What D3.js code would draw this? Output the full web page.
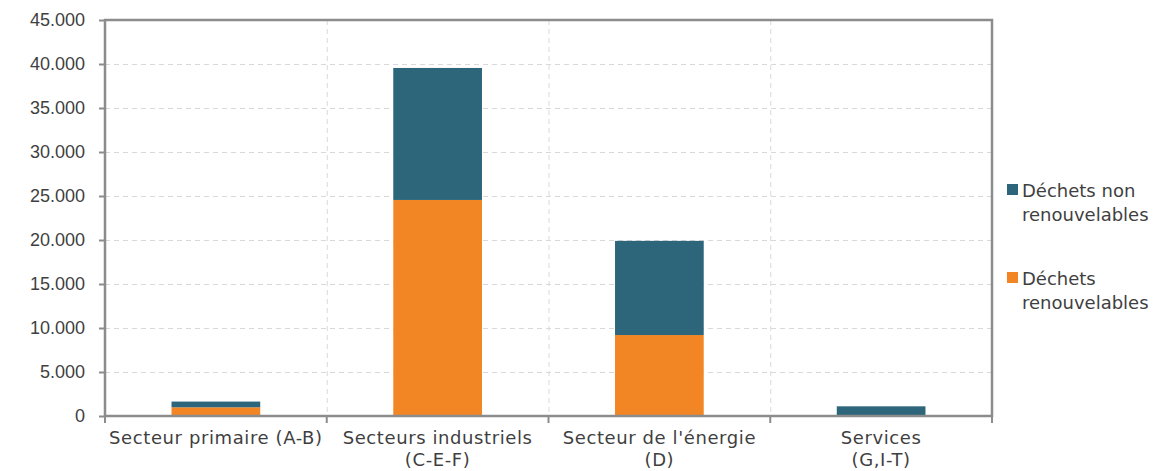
<!DOCTYPE html>
<html>
<head>
<meta charset="utf-8">
<script src="https://cdn.jsdelivr.net/npm/d3@7"></script>
<style>
  body { margin: 0; background: #fff; }
  svg { font-family: "DejaVu Sans", sans-serif; }
</style>
</head>
<body>
<svg id="svg1" width="1162" height="471"></svg>
<script>
var categories = [["Secteur primaire (A-B)"], ["Secteurs industriels", "(C-E-F)"], ["Secteur de l'énergie", "(D)"], ["Services", "(G,I-T)"]];
var renouvelables = [990, 24550, 9200, 30];
var nonRenouvelables = [650, 15000, 10700, 1070];
var seriesNames = ["Déchets renouvelables", "Déchets non renouvelables"];
var yTicks = [0, 5000, 10000, 15000, 20000, 25000, 30000, 35000, 40000, 45000];

var colors = ["#f28524", "#2d667b"];
var axisColor = "#8c8c8c";
var textColor = "#3f3f3f";
var fontSize = "18px";

var marginLeft = 105, marginTop = 20, plotW = 887, plotH = 396;

var svg = d3.select('svg')
    .append('g')
    .attr('transform', 'translate(' + marginLeft + ',' + marginTop + ')');

var x = d3.scaleBand()
    .domain(d3.range(categories.length))
    .range([0, plotW])
    .paddingInner(0)
    .paddingOuter(0);

var y = d3.scaleLinear()
    .domain([0, 45000])
    .range([plotH, 0]);

var fmt = function(d) { return d3.format(",")(d).replace(/,/g, "."); };

// horizontal grid
svg.append("g")
   .selectAll("line")
   .data(yTicks.slice(1))
   .enter()
   .append("line")
   .attr("x1", 0).attr("x2", plotW)
   .attr("y1", function(d) { return y(d) + 0.5; })
   .attr("y2", function(d) { return y(d) + 0.5; })
   .attr("stroke", "#d9d9d9")
   .attr("stroke-dasharray", "5,4");

// vertical grid at category boundaries
svg.append("g")
   .selectAll("line")
   .data(d3.range(1, categories.length))
   .enter()
   .append("line")
   .attr("x1", function(d) { return x(d) + 0.5; })
   .attr("x2", function(d) { return x(d) + 0.5; })
   .attr("y1", 0).attr("y2", plotH)
   .attr("stroke", "#d9d9d9")
   .attr("stroke-dasharray", "5,4");

// stacked bars
var stackData = categories.map(function(c, i) {
  return { i: i, ren: renouvelables[i], non: nonRenouvelables[i] };
});
var stack = d3.stack().keys(["ren", "non"]);
var layers = stack(stackData);

var barW = x.bandwidth() * 0.4;

svg.append("g")
   .selectAll("g")
   .data(layers)
   .enter()
   .append("g")
   .attr("fill", function(d, k) { return colors[k]; })
   .selectAll("rect")
   .data(function(d) { return d; })
   .enter()
   .append("rect")
   .attr("x", function(d) { return x(d.data.i) + (x.bandwidth() - barW) / 2; })
   .attr("width", barW)
   .attr("y", function(d) { return y(d[1]); })
   .attr("height", function(d) { return y(d[0]) - y(d[1]); });

// frame
svg.append("rect")
   .attr("x", 0).attr("y", 0)
   .attr("width", plotW).attr("height", plotH)
   .attr("fill", "none")
   .attr("stroke", axisColor)
   .attr("stroke-width", 2.5);

// y axis
var yAxis = svg.append("g")
   .call(d3.axisLeft(y).tickValues(yTicks).tickFormat(fmt).tickSize(6).tickPadding(14));
yAxis.select(".domain").remove();
yAxis.selectAll("line").attr("stroke", axisColor).attr("stroke-width", 2);
yAxis.selectAll("text").attr("fill", textColor).style("font-size", fontSize);

// x ticks at boundaries
svg.append("g")
   .selectAll("line")
   .data(d3.range(0, categories.length + 1))
   .enter()
   .append("line")
   .attr("x1", function(d) { return d * x.step(); })
   .attr("x2", function(d) { return d * x.step(); })
   .attr("y1", plotH).attr("y2", plotH + 7)
   .attr("stroke", axisColor)
   .attr("stroke-width", 2);

// x labels
var xl = svg.append("g")
   .selectAll("text")
   .data(categories)
   .enter()
   .append("text")
   .attr("x", function(d, i) { return x(i) + x.bandwidth() / 2; })
   .attr("y", plotH + 28)
   .attr("text-anchor", "middle")
   .attr("fill", textColor)
   .style("font-size", fontSize)
   .style("letter-spacing", "0.6px");
xl.selectAll("tspan")
  .data(function(d) { return d; })
  .enter()
  .append("tspan")
  .attr("x", function() { return d3.select(this.parentNode).attr("x"); })
  .attr("dy", function(d, j) { return j === 0 ? 0 : 22; })
  .text(function(d) { return d; });

// legend
var legendItems = [
  { name: ["Déchets non", "renouvelables"], color: colors[1], y: 184 },
  { name: ["Déchets", "renouvelables"], color: colors[0], y: 272 }
];
var lg = d3.select('svg').append("g");
var li = lg.selectAll("g")
   .data(legendItems)
   .enter()
   .append("g")
   .attr("transform", function(d) { return "translate(1007," + d.y + ")"; });
li.append("rect")
  .attr("x", 0).attr("y", 0)
  .attr("width", 11).attr("height", 11)
  .attr("fill", function(d) { return d.color; });
li.append("text")
  .attr("fill", textColor)
  .style("font-size", fontSize)
  .selectAll("tspan")
  .data(function(d) { return d.name; })
  .enter()
  .append("tspan")
  .attr("x", 15)
  .attr("y", function(d, j) { return 13 + j * 24; })
  .text(function(d) { return d; });
</script>
</body>
</html>
